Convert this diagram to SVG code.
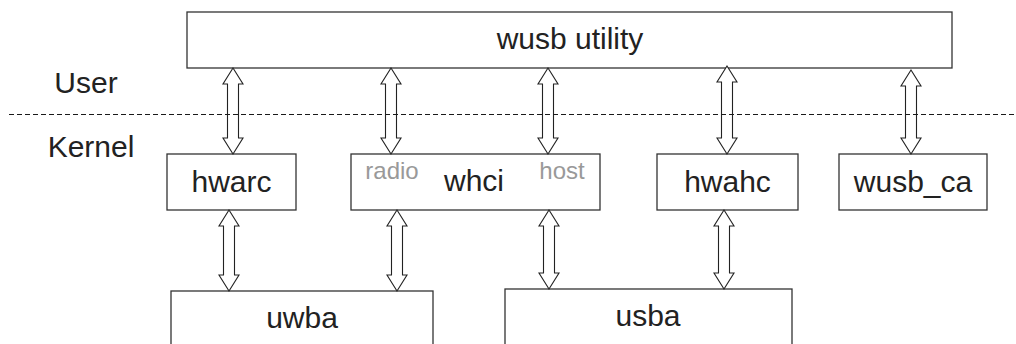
<svg xmlns="http://www.w3.org/2000/svg" width="1016" height="344" viewBox="0 0 1016 344">
  <style>
    .box { fill: #ffffff; stroke: #333333; stroke-width: 1.3; }
    .lbl { font-family: "Liberation Sans", Arial, sans-serif; font-size: 30px; fill: #222222; text-anchor: middle; }
    .sub { font-family: "Liberation Sans", Arial, sans-serif; font-size: 24px; fill: #999999; text-anchor: middle; }
    .arrow { fill: #ffffff; stroke: #222222; stroke-width: 1.1; stroke-linejoin: miter; }
    .sep { stroke: #1a1a1a; stroke-width: 1; stroke-dasharray: 5 3; fill: none; }
  </style>

  <rect width="1016" height="344" fill="#ffffff"/>

  <!-- layer captions -->
  <text class="lbl" x="86" y="93">User</text>
  <text class="lbl" x="91" y="157">Kernel</text>

  <!-- nodes -->
  <g id="wusb-utility">
    <rect class="box" x="187" y="12" width="765" height="56"/>
    <text class="lbl" x="570" y="49">wusb utility</text>
  </g>
  <g id="hwarc">
    <rect class="box" x="167" y="154" width="129" height="56"/>
    <text class="lbl" x="231.5" y="192">hwarc</text>
  </g>
  <g id="whci">
    <rect class="box" x="351" y="154" width="249" height="56"/>
    <text class="lbl" x="474" y="191">whci</text>
    <text class="sub" x="392" y="179">radio</text>
    <text class="sub" x="562" y="179">host</text>
  </g>
  <g id="hwahc">
    <rect class="box" x="657" y="154" width="141" height="56"/>
    <text class="lbl" x="727.5" y="192">hwahc</text>
  </g>
  <g id="wusb_ca">
    <rect class="box" x="839" y="154" width="148" height="56"/>
    <text class="lbl" x="913" y="192">wusb_ca</text>
  </g>
  <g id="uwba">
    <rect class="box" x="171" y="291" width="262" height="70"/>
    <text class="lbl" x="302" y="328">uwba</text>
  </g>
  <g id="usba">
    <rect class="box" x="505" y="289" width="287" height="70"/>
    <text class="lbl" x="648" y="326">usba</text>
  </g>

  <!-- connectors: hollow double-headed arrows -->
  <g id="connectors">
    <path class="arrow" d="M233,68 L243,84 L238.5,84 L238.5,138 L243,138 L233,154 L223,138 L227.5,138 L227.5,84 L223,84 Z"/>
    <path class="arrow" d="M391,68 L401,84 L396.5,84 L396.5,138 L401,138 L391,154 L381,138 L385.5,138 L385.5,84 L381,84 Z"/>
    <path class="arrow" d="M548,68 L558,84 L553.5,84 L553.5,138 L558,138 L548,154 L538,138 L542.5,138 L542.5,84 L538,84 Z"/>
    <path class="arrow" d="M727,66 L737,82 L732.5,82 L732.5,138 L737,138 L727,154 L717,138 L721.5,138 L721.5,82 L717,82 Z"/>
    <path class="arrow" d="M911,70 L921,86 L916.5,86 L916.5,138 L921,138 L911,154 L901,138 L905.5,138 L905.5,86 L901,86 Z"/>

    <path class="arrow" d="M229,210 L239,226 L234.5,226 L234.5,275 L239,275 L229,291 L219,275 L223.5,275 L223.5,226 L219,226 Z"/>
    <path class="arrow" d="M397,210 L407,226 L402.5,226 L402.5,275 L407,275 L397,291 L387,275 L391.5,275 L391.5,226 L387,226 Z"/>
    <path class="arrow" d="M549,210 L559,226 L554.5,226 L554.5,273 L559,273 L549,289 L539,273 L543.5,273 L543.5,226 L539,226 Z"/>
    <path class="arrow" d="M724,210 L734,226 L729.5,226 L729.5,273 L734,273 L724,289 L714,273 L718.5,273 L718.5,226 L714,226 Z"/>
  </g>

  <!-- user / kernel boundary -->
  <line class="sep" x1="9" y1="114.5" x2="1016" y2="114.5"/>
</svg>
